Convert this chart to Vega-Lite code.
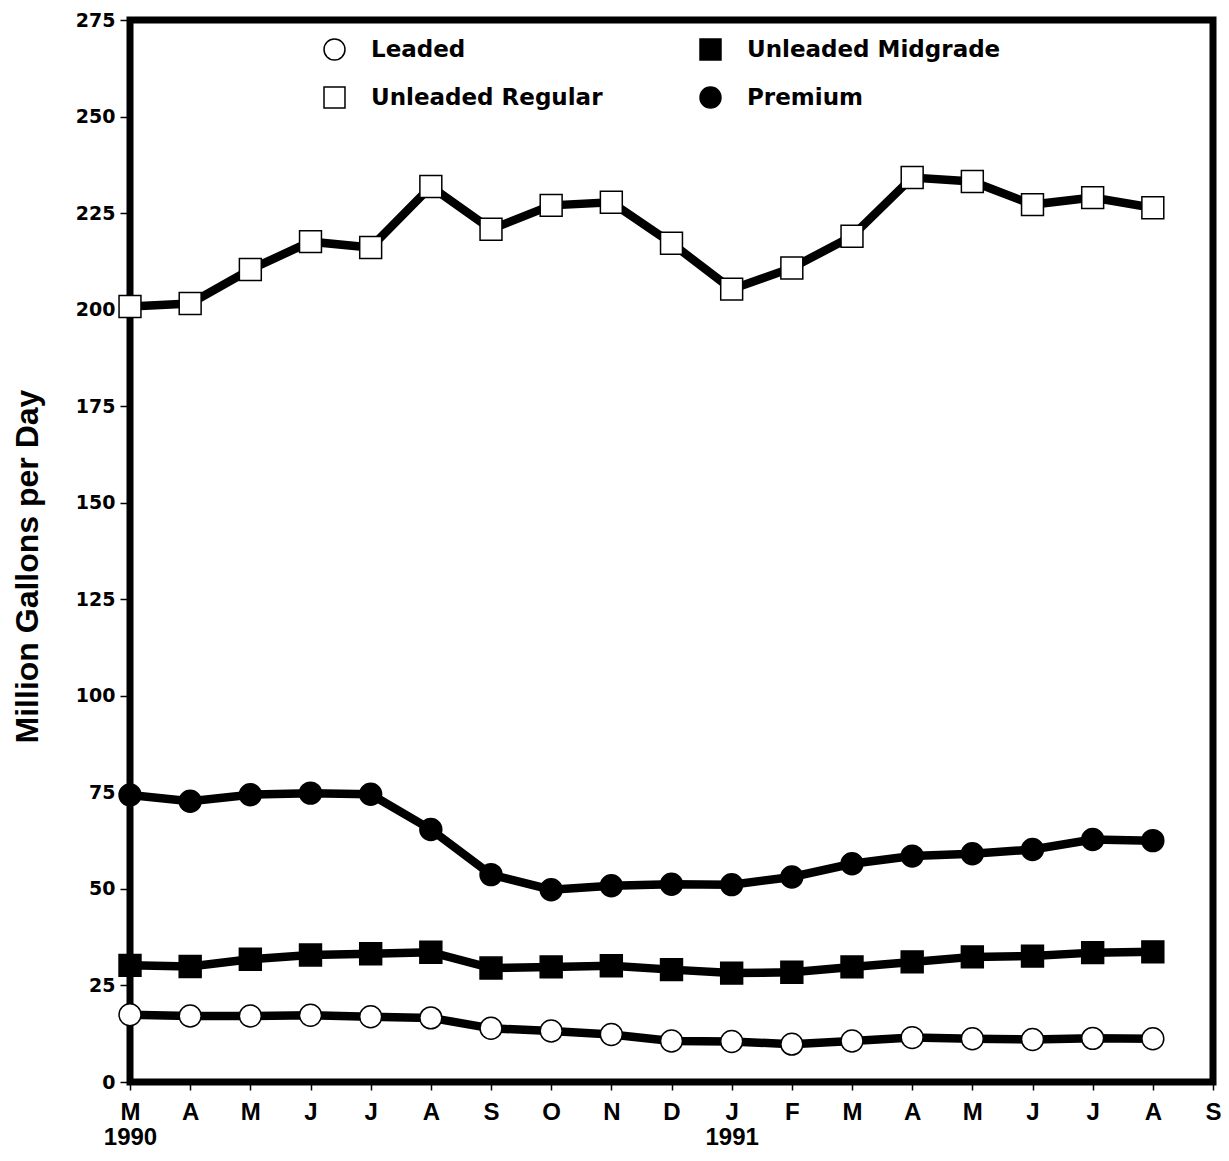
{
  "$schema": "https://vega.github.io/schema/vega-lite/v6.json",
  "width": 1083,
  "height": 1062,
  "autosize": {"type": "none"},
  "padding": {"left": 130, "top": 20, "right": 16, "bottom": 79},
  "background": "white",
  "config": {
    "view": {"stroke": "black", "strokeWidth": 7},
    "axis": {"grid": false, "domain": false, "tickColor": "black", "tickWidth": 1.5, "labelColor": "black", "titleColor": "black"},
    "legend": {"orient": "none", "legendX": 193, "legendY": 18, "columns": 2, "labelFont": "DejaVu Sans", "labelFontWeight": "bold", "labelFontSize": 23, "labelColor": "black", "labelLimit": 400, "symbolSize": 440, "symbolStrokeWidth": 1.5, "labelOffset": 25, "columnPadding": 94, "rowPadding": 21}
  },
  "data": {
    "values": [
      {"month": "1990-03", "fuel": "Leaded", "value": 17.4},
      {"month": "1990-04", "fuel": "Leaded", "value": 17.1},
      {"month": "1990-05", "fuel": "Leaded", "value": 17.1},
      {"month": "1990-06", "fuel": "Leaded", "value": 17.3},
      {"month": "1990-07", "fuel": "Leaded", "value": 16.9},
      {"month": "1990-08", "fuel": "Leaded", "value": 16.6},
      {"month": "1990-09", "fuel": "Leaded", "value": 13.9},
      {"month": "1990-10", "fuel": "Leaded", "value": 13.2},
      {"month": "1990-11", "fuel": "Leaded", "value": 12.3},
      {"month": "1990-12", "fuel": "Leaded", "value": 10.6},
      {"month": "1991-01", "fuel": "Leaded", "value": 10.5},
      {"month": "1991-02", "fuel": "Leaded", "value": 9.8},
      {"month": "1991-03", "fuel": "Leaded", "value": 10.6},
      {"month": "1991-04", "fuel": "Leaded", "value": 11.5},
      {"month": "1991-05", "fuel": "Leaded", "value": 11.2},
      {"month": "1991-06", "fuel": "Leaded", "value": 11.0},
      {"month": "1991-07", "fuel": "Leaded", "value": 11.3},
      {"month": "1991-08", "fuel": "Leaded", "value": 11.2},
      {"month": "1990-03", "fuel": "Unleaded Regular", "value": 200.8},
      {"month": "1990-04", "fuel": "Unleaded Regular", "value": 201.6},
      {"month": "1990-05", "fuel": "Unleaded Regular", "value": 210.4},
      {"month": "1990-06", "fuel": "Unleaded Regular", "value": 217.6},
      {"month": "1990-07", "fuel": "Unleaded Regular", "value": 216.1},
      {"month": "1990-08", "fuel": "Unleaded Regular", "value": 231.9},
      {"month": "1990-09", "fuel": "Unleaded Regular", "value": 220.8},
      {"month": "1990-10", "fuel": "Unleaded Regular", "value": 227.0},
      {"month": "1990-11", "fuel": "Unleaded Regular", "value": 227.8},
      {"month": "1990-12", "fuel": "Unleaded Regular", "value": 217.2},
      {"month": "1991-01", "fuel": "Unleaded Regular", "value": 205.3},
      {"month": "1991-02", "fuel": "Unleaded Regular", "value": 210.8},
      {"month": "1991-03", "fuel": "Unleaded Regular", "value": 219.0},
      {"month": "1991-04", "fuel": "Unleaded Regular", "value": 234.2},
      {"month": "1991-05", "fuel": "Unleaded Regular", "value": 233.2},
      {"month": "1991-06", "fuel": "Unleaded Regular", "value": 227.2},
      {"month": "1991-07", "fuel": "Unleaded Regular", "value": 229.0},
      {"month": "1991-08", "fuel": "Unleaded Regular", "value": 226.4},
      {"month": "1990-03", "fuel": "Unleaded Midgrade", "value": 30.2},
      {"month": "1990-04", "fuel": "Unleaded Midgrade", "value": 29.9},
      {"month": "1990-05", "fuel": "Unleaded Midgrade", "value": 31.8},
      {"month": "1990-06", "fuel": "Unleaded Midgrade", "value": 32.9},
      {"month": "1990-07", "fuel": "Unleaded Midgrade", "value": 33.2},
      {"month": "1990-08", "fuel": "Unleaded Midgrade", "value": 33.6},
      {"month": "1990-09", "fuel": "Unleaded Midgrade", "value": 29.5},
      {"month": "1990-10", "fuel": "Unleaded Midgrade", "value": 29.8},
      {"month": "1990-11", "fuel": "Unleaded Midgrade", "value": 30.1},
      {"month": "1990-12", "fuel": "Unleaded Midgrade", "value": 29.1},
      {"month": "1991-01", "fuel": "Unleaded Midgrade", "value": 28.2},
      {"month": "1991-02", "fuel": "Unleaded Midgrade", "value": 28.4},
      {"month": "1991-03", "fuel": "Unleaded Midgrade", "value": 29.8},
      {"month": "1991-04", "fuel": "Unleaded Midgrade", "value": 31.1},
      {"month": "1991-05", "fuel": "Unleaded Midgrade", "value": 32.4},
      {"month": "1991-06", "fuel": "Unleaded Midgrade", "value": 32.6},
      {"month": "1991-07", "fuel": "Unleaded Midgrade", "value": 33.5},
      {"month": "1991-08", "fuel": "Unleaded Midgrade", "value": 33.7},
      {"month": "1990-03", "fuel": "Premium", "value": 74.3},
      {"month": "1990-04", "fuel": "Premium", "value": 72.7},
      {"month": "1990-05", "fuel": "Premium", "value": 74.4},
      {"month": "1990-06", "fuel": "Premium", "value": 74.8},
      {"month": "1990-07", "fuel": "Premium", "value": 74.5},
      {"month": "1990-08", "fuel": "Premium", "value": 65.4},
      {"month": "1990-09", "fuel": "Premium", "value": 53.7},
      {"month": "1990-10", "fuel": "Premium", "value": 49.8},
      {"month": "1990-11", "fuel": "Premium", "value": 50.8},
      {"month": "1990-12", "fuel": "Premium", "value": 51.2},
      {"month": "1991-01", "fuel": "Premium", "value": 51.1},
      {"month": "1991-02", "fuel": "Premium", "value": 53.1},
      {"month": "1991-03", "fuel": "Premium", "value": 56.5},
      {"month": "1991-04", "fuel": "Premium", "value": 58.5},
      {"month": "1991-05", "fuel": "Premium", "value": 59.1},
      {"month": "1991-06", "fuel": "Premium", "value": 60.2},
      {"month": "1991-07", "fuel": "Premium", "value": 62.8},
      {"month": "1991-08", "fuel": "Premium", "value": 62.5}
    ]
  },
  "encoding": {
    "x": {
      "field": "month",
      "type": "ordinal",
      "scale": {"type": "point", "padding": 0, "domain": ["1990-03", "1990-04", "1990-05", "1990-06", "1990-07", "1990-08", "1990-09", "1990-10", "1990-11", "1990-12", "1991-01", "1991-02", "1991-03", "1991-04", "1991-05", "1991-06", "1991-07", "1991-08", "1991-09"]},
      "axis": {
        "title": null,
        "labelAngle": 0,
        "tickSize": 8,
        "labelPadding": 10,
        "labelFont": "Liberation Sans",
        "labelFontWeight": "bold",
        "labelFontSize": 24,
        "labelLineHeight": 25,
        "labelExpr": "datum.value == '1990-03' ? ['M', '1990'] : datum.value == '1991-01' ? ['J', '1991'] : ['J','F','M','A','M','J','J','A','S','O','N','D'][toNumber(substring(datum.value, 5, 7)) - 1]"
      }
    },
    "y": {
      "field": "value",
      "type": "quantitative",
      "scale": {"domain": [0, 275], "nice": false, "zero": true},
      "axis": {
        "title": "Million Gallons per Day",
        "values": [0, 25, 50, 75, 100, 125, 150, 175, 200, 225, 250, 275],
        "tickSize": 10,
        "labelPadding": 5,
        "labelFont": "DejaVu Sans",
        "labelFontWeight": "bold",
        "labelFontSize": 19,
        "titleFont": "Liberation Sans",
        "titleFontWeight": "bold",
        "titleFontSize": 32,
        "titlePadding": 31,
        "titleY": 546
      }
    }
  },
  "layer": [
    {
      "mark": {"type": "line", "color": "black", "strokeWidth": 8.5},
      "encoding": {"detail": {"field": "fuel"}}
    },
    {
      "mark": {"type": "point", "filled": true, "strokeWidth": 1.5, "size": 480, "opacity": 1},
      "encoding": {
        "shape": {"field": "fuel", "type": "nominal", "title": null, "scale": {"domain": ["Leaded", "Unleaded Regular", "Unleaded Midgrade", "Premium"], "range": ["circle", "square", "square", "circle"]}},
        "fill": {"field": "fuel", "type": "nominal", "title": null, "scale": {"domain": ["Leaded", "Unleaded Regular", "Unleaded Midgrade", "Premium"], "range": ["white", "white", "black", "black"]}},
        "stroke": {"field": "fuel", "type": "nominal", "title": null, "scale": {"domain": ["Leaded", "Unleaded Regular", "Unleaded Midgrade", "Premium"], "range": ["black", "black", "black", "black"]}}
      }
    }
  ]
}
